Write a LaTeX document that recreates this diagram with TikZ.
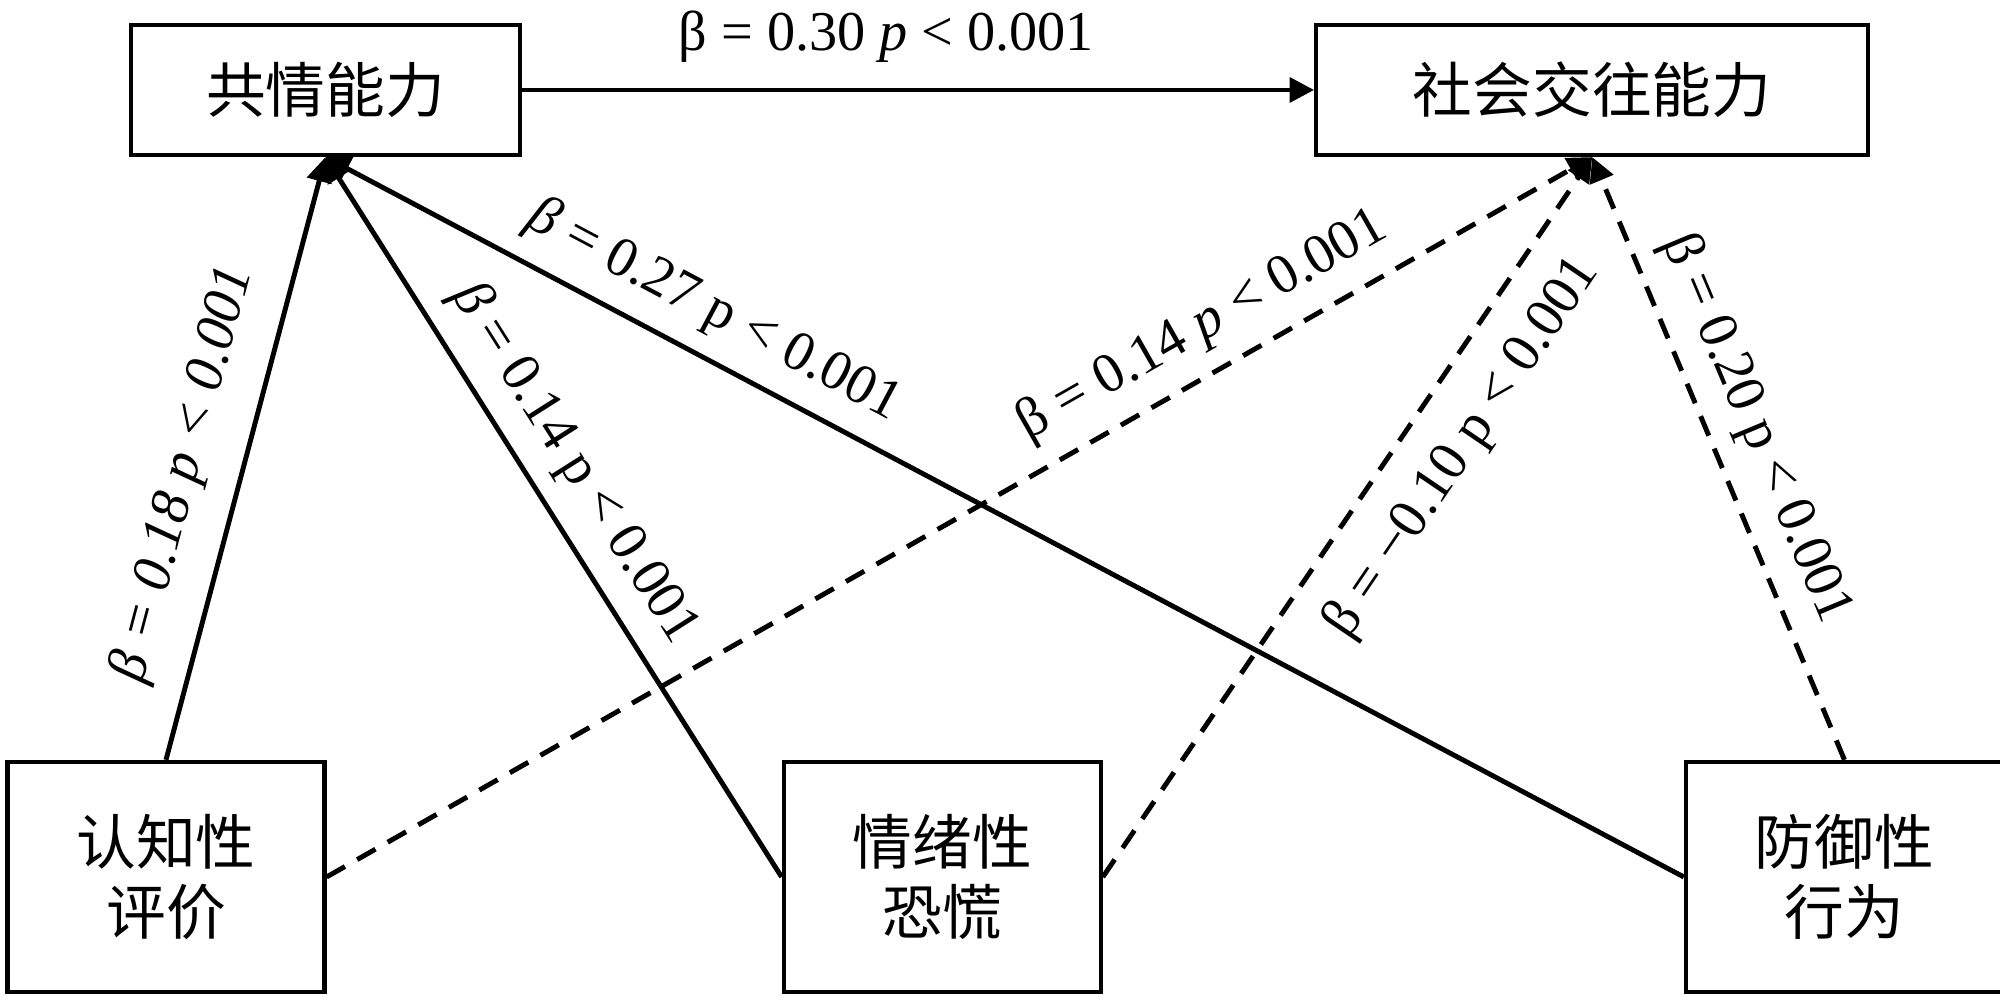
\documentclass[tikz,border=0pt]{standalone}
\usepackage{fontspec}
\setmainfont{Liberation Serif}
\newfontfamily\cjk{Noto Sans CJK SC}
\usetikzlibrary{arrows.meta,positioning}

\begin{document}
\begin{tikzpicture}[->,>={Triangle[length=7pt,width=7pt]},line width=1.4pt,
  block/.style={draw,line width=1.2pt,inner sep=0pt,align=center,
    font=\cjk\fontsize{17}{20}\selectfont},
  wide/.style={block,minimum width=3.89cm,minimum height=1.30cm},
  tall/.style={block,minimum width=3.17cm,minimum height=2.30cm},
  coef/.style={inner sep=3pt,font=\fontsize{16}{19}\selectfont},
  indirect/.style={dash pattern=on 6pt off 4pt}]

  \useasboundingbox (0,0) rectangle (20,10);

  \node[wide] (gq) at (3.255,9.10) {共情能力};
  \node[wide,minimum width=5.52cm] (sj) [right=7.92cm of gq] {社会交往能力};
  \node[tall] (rz) at (1.66,1.23) {认知性\\评价};
  \node[tall] (qx) [right=4.55cm of rz] {情绪性\\恐慌};
  \node[tall] (fy) [right=5.81cm of qx] {防御性\\行为};

  \path (gq.east) edge node[coef,above=4pt,pos=0.46] {β = 0.30 \textit{p} < 0.001} (sj.west)
        (rz.north) edge node[coef,sloped,above=5pt,pos=0.45] {\textit{β = 0.18 p < 0.001}} (gq.south)
        (qx.west) edge node[coef,sloped,above=2pt,pos=0.54] {\textit{β} = 0.14 p < 0.001} (gq.south)
        (fy.west) edge node[coef,sloped,above=2pt,pos=0.73] {\textit{β} = 0.27 p < 0.001} (gq.south)
        (rz.east) edge[indirect] node[coef,sloped,above=2pt,pos=0.71] {β = 0.14 \textit{p} < 0.001} (sj.south)
        (qx.east) edge[indirect] node[coef,sloped,below=5pt,pos=0.64] {β = −0.10 p < 0.001} (sj.south)
        (fy.north) edge[indirect] node[coef,sloped,above=2pt,pos=0.52] {β = 0.20 p < 0.001} (sj.south);
\end{tikzpicture}
\end{document}
